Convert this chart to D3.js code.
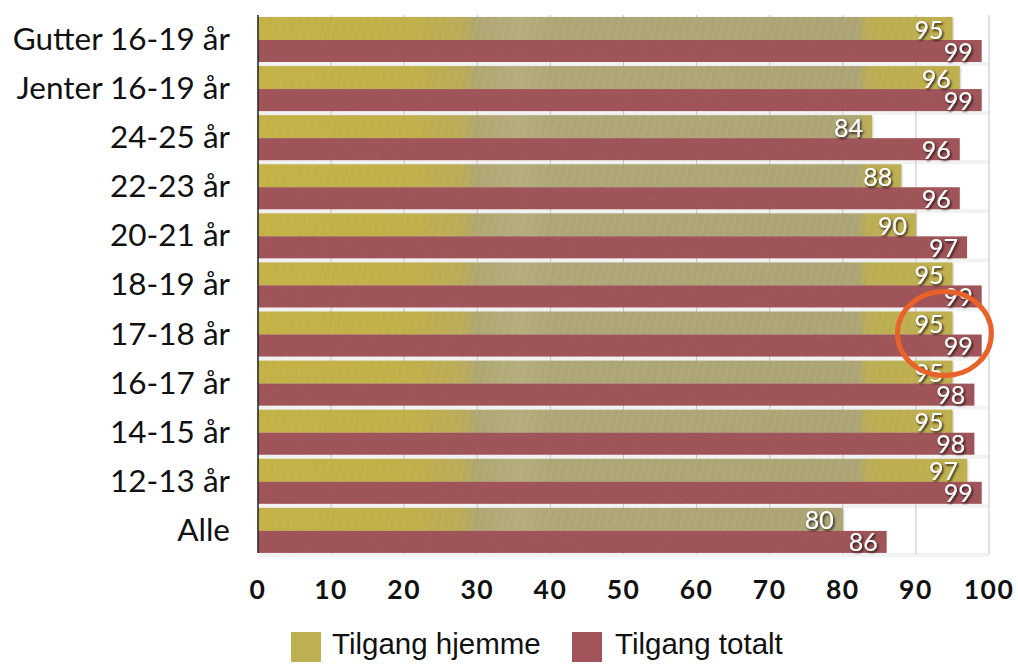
<!DOCTYPE html>
<html>
<head>
<meta charset="utf-8">
<script src="https://cdn.jsdelivr.net/npm/d3@7/dist/d3.min.js"></script>
<style>
  html, body { margin: 0; padding: 0; background: #fff; }
  svg { display: block; }
</style>
</head>
<body>
<svg id="chart" width="1018" height="668"></svg>
<script>
// Internet access by age group (percent)
const categories = ["Gutter 16-19 år", "Jenter 16-19 år", "24-25 år", "22-23 år", "20-21 år",
                    "18-19 år", "17-18 år", "16-17 år", "14-15 år", "12-13 år", "Alle"];
const hjemme = [95, 96, 84, 88, 90, 95, 95, 95, 95, 97, 80];
const totalt = [99, 99, 96, 96, 97, 99, 99, 98, 98, 99, 86];
const xTicks = [0, 10, 20, 30, 40, 50, 60, 70, 80, 90, 100];
const seriesNames = ["Tilgang hjemme", "Tilgang totalt"];
const highlighted = "17-18 år";

const svg = d3.select("#chart");
const plotLeft = 258, plotRight = 989, plotTop = 15, plotBottom = 553;

const x = d3.scaleLinear().domain([0, 100]).range([plotLeft, plotRight]);
const y = d3.scaleBand().domain(categories).range([plotTop, 555]).paddingInner(0);

const defs = svg.append("defs");

// wood-like gradient for the "hjemme" bars, fixed to the plot's x extent
const grad = defs.append("linearGradient")
  .attr("id", "woodGrad").attr("gradientUnits", "userSpaceOnUse")
  .attr("x1", plotLeft).attr("x2", plotRight).attr("y1", 0).attr("y2", 0);
[[0, "#c3b247"], [0.2, "#c0b04b"], [0.28, "#b9ab5c"], [0.3, "#aea676"],
 [0.36, "#b4ad80"], [0.4, "#ada67a"], [0.6, "#aca579"], [0.82, "#aba478"],
 [0.835, "#bbad55"], [1, "#c0b04c"]]
  .forEach(([o, c]) => grad.append("stop").attr("offset", o).attr("stop-color", c));

// thin grain lines over the wood
const pat = defs.append("pattern")
  .attr("id", "woodLines").attr("patternUnits", "userSpaceOnUse")
  .attr("width", 7.5).attr("height", 24).attr("patternTransform", "skewX(-14)");
pat.append("line").attr("x1", 2).attr("x2", 2).attr("y1", 0).attr("y2", 24)
  .attr("stroke", "#d4c040").attr("stroke-width", 0.8).attr("stroke-opacity", 0.45);

// grainy fabric texture for the "totalt" bars
const grain = defs.append("filter").attr("id", "grain")
  .attr("x", 0).attr("y", 0).attr("width", 1).attr("height", 1);
grain.append("feTurbulence").attr("type", "fractalNoise")
  .attr("baseFrequency", 0.85).attr("numOctaves", 2).attr("seed", 3).attr("result", "noise");
grain.append("feColorMatrix").attr("in", "noise").attr("type", "matrix")
  .attr("values", "0 0 0 0 0.25  0 0 0 0 0.1  0 0 0 0 0.1  0 0 0 -0.9 0.55")
  .attr("result", "tint");
grain.append("feComposite").attr("in", "tint").attr("in2", "SourceGraphic")
  .attr("operator", "in").attr("result", "tintIn");
const gm = grain.append("feMerge");
gm.append("feMergeNode").attr("in", "SourceGraphic");
gm.append("feMergeNode").attr("in", "tintIn");

// soft shadow under bars
const barShadow = defs.append("filter").attr("id", "barShadow")
  .attr("x", "-2%").attr("y", "-20%").attr("width", "104%").attr("height", "150%");
barShadow.append("feDropShadow").attr("dx", 0.5).attr("dy", 1).attr("stdDeviation", 0.8)
  .attr("flood-color", "#777").attr("flood-opacity", 0.55);

// dark halo for the white value labels
const txtShadow = defs.append("filter").attr("id", "txtShadow")
  .attr("x", "-20%").attr("y", "-20%").attr("width", "150%").attr("height", "160%");
txtShadow.append("feDropShadow").attr("dx", 1.3).attr("dy", 1.6).attr("stdDeviation", 1)
  .attr("flood-color", "#1a1010").attr("flood-opacity", 0.95);

// gaps between groups
svg.append("g").selectAll("rect").data(categories).join("rect")
  .attr("x", plotLeft).attr("width", plotRight - plotLeft)
  .attr("y", d => y(d) + 47).attr("height", 4)
  .attr("fill", "#f2f2f2");

// vertical gridlines
svg.append("g").selectAll("line").data(xTicks.slice(1)).join("line")
  .attr("x1", d => x(d)).attr("x2", d => x(d))
  .attr("y1", plotTop).attr("y2", plotBottom + 1)
  .attr("stroke", "#c4c4c4").attr("stroke-width", 1);

const rows = svg.append("g").selectAll("g").data(categories).join("g");

// hjemme bars
rows.append("rect")
  .attr("x", x(0)).attr("y", d => y(d) + 2)
  .attr("width", (d, i) => x(hjemme[i]) - x(0)).attr("height", 23)
  .attr("fill", "url(#woodGrad)").attr("filter", "url(#barShadow)");
rows.append("rect")
  .attr("x", x(0)).attr("y", d => y(d) + 2)
  .attr("width", (d, i) => x(hjemme[i]) - x(0)).attr("height", 23)
  .attr("fill", "url(#woodLines)");

// totalt bars
rows.append("rect")
  .attr("x", x(0)).attr("y", d => y(d) + 25)
  .attr("width", (d, i) => x(totalt[i]) - x(0)).attr("height", 22)
  .attr("fill", "#a2545a").attr("filter", "url(#grain)");

// value labels
const labelFont = "Lato, 'Open Sans', sans-serif";
rows.append("text")
  .attr("x", (d, i) => x(hjemme[i]) - 9).attr("y", d => y(d) + 23.5)
  .attr("text-anchor", "end").attr("fill", "#fff")
  .attr("font-family", labelFont).attr("font-size", 25)
  .attr("filter", "url(#txtShadow)")
  .text((d, i) => hjemme[i]);
rows.append("text")
  .attr("x", (d, i) => x(totalt[i]) - 9).attr("y", d => y(d) + 45.5)
  .attr("text-anchor", "end").attr("fill", "#fff")
  .attr("font-family", labelFont).attr("font-size", 25)
  .attr("filter", "url(#txtShadow)")
  .text((d, i) => totalt[i]);

// left axis line
svg.append("line").attr("x1", plotLeft).attr("x2", plotLeft).attr("y1", plotTop).attr("y2", plotBottom)
  .attr("stroke", "#2b2b2b").attr("stroke-width", 1.6);

// category labels
svg.append("g").selectAll("text").data(categories).join("text")
  .attr("x", 230).attr("y", d => y(d) + 35)
  .attr("text-anchor", "end").attr("fill", "#111")
  .attr("font-family", labelFont).attr("font-size", 31.5)
  .text(d => d);

// x tick labels
svg.append("g").selectAll("text").data(xTicks).join("text")
  .attr("x", d => x(d)).attr("y", 599)
  .attr("text-anchor", "middle").attr("fill", "#111")
  .attr("font-family", labelFont).attr("font-size", 26.5).attr("font-weight", 700)
  .attr("letter-spacing", 1.5)
  .text(d => d);

// legend
const legendItems = [
  { name: seriesNames[0], fill: "#bdb052", sx: 291, tx: 332 },
  { name: seriesNames[1], fill: "#a2545a", sx: 572, tx: 615 }
];
const lg = svg.append("g").selectAll("g").data(legendItems).join("g");
lg.append("rect").attr("x", d => d.sx).attr("y", 632).attr("width", 30).attr("height", 30)
  .attr("fill", d => d.fill);
lg.append("text").attr("x", d => d.tx).attr("y", 654)
  .attr("font-family", "'Liberation Sans', Arial, sans-serif").attr("font-size", 29.5)
  .attr("fill", "#111").text(d => d.name);

// highlight ring around one group's values
const hi = categories.indexOf(highlighted);
svg.append("ellipse")
  .attr("cx", x(hjemme[hi]) - 8)
  .attr("cy", y(highlighted) + 24)
  .attr("rx", 47).attr("ry", 42)
  .attr("fill", "none").attr("stroke", "#e8622a").attr("stroke-width", 5);
</script>
</body>
</html>
